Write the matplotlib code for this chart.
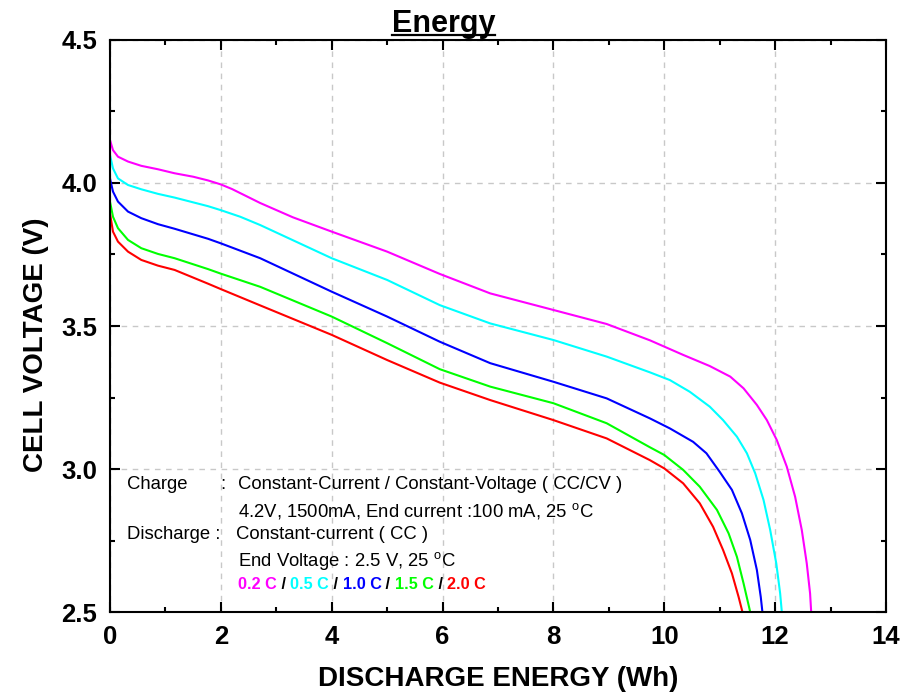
import matplotlib

matplotlib.use("Agg")
import matplotlib.pyplot as plt
from matplotlib.lines import Line2D
from matplotlib.ticker import FormatStrFormatter, MultipleLocator

plt.rcParams["font.family"] = ["Liberation Sans", "DejaVu Sans"]
plt.rcParams["mathtext.fontset"] = "custom"
plt.rcParams["mathtext.rm"] = "Liberation Sans"

# discharge curves (energy in Wh, voltage in V)
x_02c = [0, 0.054, 0.144, 0.325, 0.565, 0.866, 1.166, 1.5, 1.768, 2.0, 2.2,
         2.45, 2.71, 3.3, 4.0, 5.0, 5.95, 6.86, 8.0, 8.96, 9.74, 10.34, 10.82,
         11.19, 11.43, 11.67, 11.85, 12.03, 12.21, 12.36, 12.48, 12.57, 12.63,
         12.65]
v_02c = [4.150, 4.115, 4.092, 4.075, 4.06, 4.048, 4.034, 4.022, 4.009, 3.995,
         3.979, 3.955, 3.93, 3.88, 3.83, 3.76, 3.682, 3.614, 3.556, 3.507, 3.45,
         3.399, 3.36, 3.323, 3.282, 3.224, 3.171, 3.101, 3.008, 2.903, 2.787,
         2.67, 2.565, 2.5]

x_05c = [0, 0.054, 0.144, 0.325, 0.565, 0.866, 1.166, 1.768, 2.0, 2.35, 2.71,
         4.0, 5.0, 5.95, 6.86, 8.0, 8.96, 9.74, 10.10, 10.46, 10.82, 11.06,
         11.31, 11.49, 11.64, 11.79, 11.91, 12.02, 12.09, 12.12]
v_05c = [4.098, 4.051, 4.016, 3.993, 3.978, 3.962, 3.949, 3.919, 3.905, 3.882,
         3.853, 3.737, 3.661, 3.573, 3.509, 3.451, 3.393, 3.338, 3.311, 3.27,
         3.218, 3.171, 3.113, 3.055, 2.985, 2.892, 2.787, 2.67, 2.565, 2.5]

x_10c = [0, 0.054, 0.144, 0.325, 0.565, 0.866, 1.166, 1.768, 2.0, 2.71, 4.0,
         5.0, 5.95, 6.86, 8.0, 8.96, 9.74, 10.10, 10.52, 10.76, 11.0, 11.22,
         11.40, 11.55, 11.67, 11.74, 11.77]
v_10c = [4.016, 3.97, 3.935, 3.9, 3.877, 3.856, 3.84, 3.805, 3.789, 3.737,
         3.62, 3.533, 3.445, 3.37, 3.305, 3.247, 3.177, 3.142, 3.095, 3.055,
         2.99, 2.927, 2.845, 2.752, 2.647, 2.553, 2.5]

x_15c = [0, 0.054, 0.144, 0.325, 0.565, 0.866, 1.166, 1.768, 2.0, 2.71, 4.0,
         5.0, 5.95, 6.86, 8.0, 8.96, 9.74, 10.0, 10.34, 10.64, 10.95, 11.16,
         11.31, 11.43, 11.55]
v_15c = [3.935, 3.882, 3.842, 3.801, 3.772, 3.752, 3.737, 3.699, 3.683, 3.637,
         3.533, 3.44, 3.349, 3.288, 3.23, 3.16, 3.076, 3.049, 2.997, 2.938,
         2.857, 2.775, 2.693, 2.6, 2.5]

x_20c = [0, 0.054, 0.144, 0.325, 0.565, 0.866, 1.166, 1.768, 2.0, 2.71, 4.0,
         5.0, 5.95, 6.86, 8.0, 8.96, 9.74, 10.0, 10.34, 10.64, 10.88, 11.06,
         11.22, 11.34, 11.41]
v_20c = [3.894, 3.83, 3.795, 3.76, 3.731, 3.711, 3.696, 3.648, 3.629, 3.572,
         3.469, 3.381, 3.302, 3.241, 3.171, 3.107, 3.031, 3.002, 2.95, 2.88,
         2.798, 2.717, 2.635, 2.553, 2.5]

rates = ["0.2 C", "0.5 C", "1.0 C", "1.5 C", "2.0 C"]
colors = ["#ff00ff", "#00ffff", "#0000ff", "#00ff00", "#ff0000"]
series = [(x_02c, v_02c), (x_05c, v_05c), (x_10c, v_10c), (x_15c, v_15c), (x_20c, v_20c)]

fig = plt.figure(figsize=(9.03, 6.98), dpi=100)
ax = fig.add_axes([0.1218, 0.1232, 0.8594, 0.8195])

for (xs, vs), c in zip(series, colors):
    ax.plot(xs, vs, color=c, lw=1.5, solid_joinstyle="round")

ax.set_xlim(0, 14)
ax.set_ylim(2.5, 4.5)
ax.xaxis.set_major_locator(MultipleLocator(2))
ax.xaxis.set_minor_locator(MultipleLocator(1))
ax.yaxis.set_major_locator(MultipleLocator(0.5))
ax.yaxis.set_minor_locator(MultipleLocator(0.25))
ax.yaxis.set_major_formatter(FormatStrFormatter("%.1f"))
ax.grid(True, which="major", color="#c8c8c8", ls=(0, (4, 4)), lw=1)

for s in ax.spines.values():
    s.set_linewidth(1.5)
ax.tick_params(which="both", direction="in", top=True, right=True, width=1.5)
ax.tick_params(which="major", length=7, pad=9, labelsize=18.5)
ax.tick_params(which="minor", length=3.5)
for lab in ax.get_xticklabels() + ax.get_yticklabels():
    lab.set_fontweight("bold")

ax.set_xlabel("DISCHARGE ENERGY (Wh)", fontsize=20, fontweight="bold", va="top")
ax.set_ylabel("CELL VOLTAGE (V)", fontsize=20, fontweight="bold")
ax.xaxis.set_label_coords(0.5, -0.094)
ax.yaxis.set_label_coords(-0.079, 0.467)

# test conditions block
fs = 13.3
ax.text(0.0219, 0.2145, "Charge", fontsize=fs, transform=ax.transAxes)
ax.text(0.1418, 0.2145, ":", fontsize=fs, transform=ax.transAxes)
ax.text(0.165, 0.2145, "Constant-Current / Constant-Voltage ( CC/CV )",
        fontsize=fs, transform=ax.transAxes)
ax.text(0.165, 0.1678, r"4.2V, 1500mA, End current :100 mA, 25 $^\mathregular{o}$C",
        fontsize=fs, transform=ax.transAxes)
ax.text(0.0219, 0.1271, "Discharge :", fontsize=fs, transform=ax.transAxes)
ax.text(0.1624, 0.1271, "Constant-current ( CC )", fontsize=fs, transform=ax.transAxes)
ax.text(0.165, 0.0804, r"End Voltage : 2.5 V, 25 $^\mathregular{o}$C",
        fontsize=fs, transform=ax.transAxes)

prev = ax.text(0.165, 0.0397, rates[0], color=colors[0], fontsize=11.7,
               fontweight="bold", transform=ax.transAxes)
for rate, c in zip(rates[1:], colors[1:]):
    prev = ax.annotate(" / ", xy=(1, 0), xycoords=prev, va="bottom",
                       fontsize=11.7, fontweight="bold", color="black")
    prev = ax.annotate(rate, xy=(1, 0), xycoords=prev, va="bottom",
                       fontsize=11.7, fontweight="bold", color=c)

title = fig.text(0.4911, 0.9546, "Energy", fontsize=22, fontweight="bold",
                 ha="center", va="baseline")
fig.canvas.draw()
bb = title.get_window_extent().transformed(fig.transFigure.inverted())
fig.add_artist(Line2D([bb.x0, bb.x1], [0.9500, 0.9500], color="black", lw=1.6,
                      transform=fig.transFigure))

fig.savefig("out.png", dpi=100)
